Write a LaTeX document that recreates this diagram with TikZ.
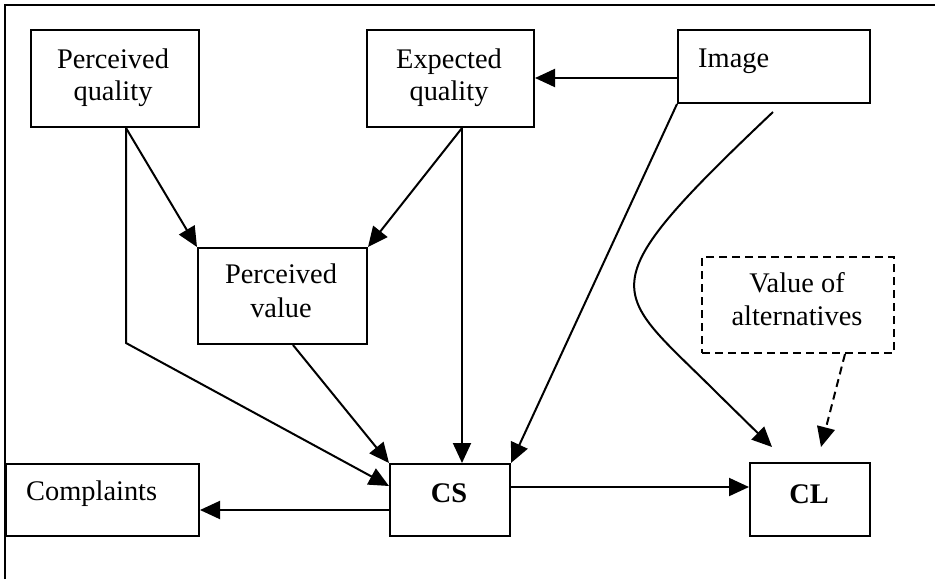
\documentclass[tikz,border=0pt]{standalone}
\usepackage{fontspec}
\setmainfont{Liberation Serif}
\usetikzlibrary{arrows.meta}
\newcommand\dfont{\fontsize{28.4}{33}\selectfont}
\begin{document}
\begin{tikzpicture}[x=1pt,y=-1pt,
  box/.style={draw, line width=2pt, inner sep=0pt, anchor=north west},
  txt/.style={inner sep=0pt, anchor=base, font=\dfont},
  txtl/.style={inner sep=0pt, anchor=base west, font=\dfont},
  arr/.style={line width=2pt, -{Triangle[length=20pt,width=18pt]}},
  dasharr/.style={arr, dash pattern=on 8pt off 5pt}]
\useasboundingbox (0,0) rectangle (935,579);
% frame
\draw[line width=2pt] (5,579) -- (5,5) -- (935,5);
% boxes
\node[box, minimum width=168pt, minimum height=97pt] (pq) at (30,29) {};
\node[box, minimum width=167pt, minimum height=97pt] (eq) at (366,29) {};
\node[box, minimum width=192pt, minimum height=73pt] (img) at (677,29) {};
\node[box, minimum width=169pt, minimum height=96pt] (pv) at (197,247) {};
\node[box, dash pattern=on 8pt off 5pt, minimum width=192pt, minimum height=96pt] (voa) at (701,256) {};
\node[box, minimum width=193pt, minimum height=72pt] (comp) at (5,463) {};
\node[box, minimum width=120pt, minimum height=72pt] (cs) at (389,463) {};
\node[box, minimum width=120pt, minimum height=73pt] (cl) at (749,462) {};
% texts
\node[txt] (pq1) at (113,68) {Perceived};
\node[txt] (pq2) at (113,100) {quality};
\node[txt] (eq1) at (449,68) {Expected};
\node[txt] (eq2) at (449,100) {quality};
\node[txtl] (img1) at (698,67) {Image};
\node[txt] (pv1) at (281,283) {Perceived};
\node[txt] (pv2) at (281,317) {value};
\node[txt] (voa1) at (797,292) {Value of};
\node[txt] (voa2) at (797,325) {alternatives};
\node[txtl] (comp1) at (26,500) {Complaints};
\node[txt] (cs1) at (449,502) {\bfseries CS};
\node[txt] (cl1) at (809,503) {\bfseries CL};
% free coordinates
\coordinate (cstart) at (773,112);
\coordinate (cbend) at (717,393);
\coordinate (ctip) at (772,447);
\coordinate (dtip) at (821,447);
% connectors
\draw[arr] (img.west |- 0,78) -- (eq.east |- 0,78);
\draw[arr] (pq.south -| 126,0) -- (pv.north west);
\draw[arr] (eq.south -| 462,0) -- (pv.north east);
\draw[arr] (pq.south -| 126,0) -- (126,343) -- (cs.west |- 0,486);
\draw[arr] (pv.south -| 293,0) -- (cs.north west);
\draw[arr] (eq.south -| 462,0) -- (cs.north -| 462,0);
\draw[arr] (img.south west) -- (cs.north east);
\draw[arr] (cstart) .. controls (583,292) and (612,288) .. (cbend) -- (ctip);
\draw[dasharr] (voa.south -| 845,0) -- (dtip);
\draw[arr] (cs.east |- 0,487) -- (cl.west |- 0,487);
\draw[arr] (cs.west |- 0,510) -- (comp.east |- 0,510);
\end{tikzpicture}
\end{document}
